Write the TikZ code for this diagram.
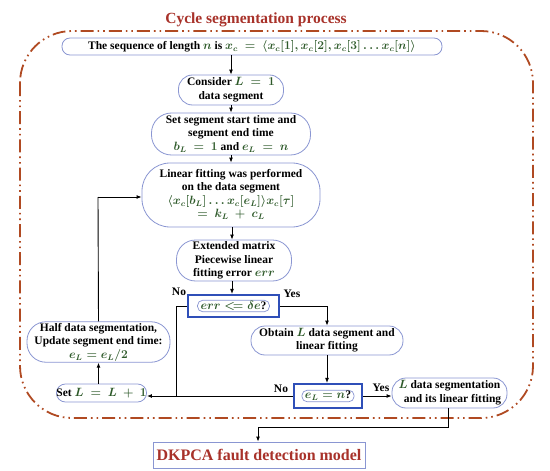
\documentclass[tikz,border=0pt]{standalone}
\usepackage{fontspec}
\setmainfont{Liberation Serif}
\usepackage{amsmath}
\usetikzlibrary{arrows.meta}
\definecolor{nodeblue}{HTML}{8A96D2}
\definecolor{boxblue}{HTML}{2F4FB8}
\definecolor{regionred}{HTML}{B04A22}
\definecolor{titlered}{HTML}{A8322A}
\definecolor{mathgreen}{HTML}{2E5A2A}
\newcommand{\gm}[1]{\textcolor{mathgreen}{\boldmath$#1$}}
\newcommand{\ml}[1]{\begin{tabular}{@{}c@{}}#1\end{tabular}}
\tikzset{
  box/.style={draw=nodeblue, line width=0.8pt, fill=white, inner sep=0pt,
    font=\bfseries\fontsize{11.5}{13.5}\selectfont},
  decision/.style={draw=boxblue, line width=2.2pt, fill=white, inner sep=0pt},
  inner/.style={draw=nodeblue, line width=0.7pt, rounded corners=5pt, inner xsep=3pt, inner ysep=1pt,
    font=\bfseries\fontsize{11.5}{13.5}\selectfont},
  conn/.style={draw=black, line width=0.9pt},
  arr/.style={conn, -{Latex[length=5pt,width=4pt]}},
  lbl/.style={font=\bfseries\fontsize{11.5}{13.5}\selectfont, inner sep=0pt},
}
\begin{document}
\begin{tikzpicture}[x=1pt,y=-1pt]
\useasboundingbox (0,0) rectangle (550,471);
% title
\node[font=\bfseries\fontsize{15.5}{18}\selectfont, text=titlered] (title) at (256,20) {Cycle segmentation process};
% region
\draw[regionred, line width=1.8pt, rounded corners=52pt,
  dash pattern=on 13pt off 4pt on 1.6pt off 4pt on 1.6pt off 4pt]
  (20,31) rectangle (533,418);
% nodes
\node[box, rounded corners=8pt, minimum width=380pt, minimum height=17pt] (top) at (252,46.5)
  {The sequence of length \gm{n} is \gm{x_c\:=\:\langle x_c[1],x_c[2],x_c[3]\ldots x_c[n]\rangle}};
\node[box, rounded corners=14pt, minimum width=105pt, minimum height=30pt] (consider) at (231,90)
  {\ml{Consider \gm{L\:=\:1}\\data segment}};
\node[box, rounded corners=20pt, minimum width=159pt, minimum height=42pt] (setseg) at (231,134)
  {\ml{Set segment start time and\\segment end time\\\gm{b_L\:=\:1} and \gm{e_L\:=\:n}}};
\node[box, rounded corners=28pt, minimum width=178pt, minimum height=64pt] (linfit) at (231,195)
  {\ml{Linear fitting was performed\\on the data segment\\\gm{\langle x_c[b_L]\ldots x_c[e_L]\rangle x_c[\tau]}\\\gm{=\:k_L\:+\:c_L}}};
\node[box, rounded corners=19pt, minimum width=115pt, minimum height=41pt] (ext) at (234,260.5)
  {\ml{Extended matrix\\Piecewise linear\\fitting error \gm{err}}};
\node[decision, minimum width=91pt, minimum height=22pt] (err) at (233.5,306) {};
\node[inner] (errt) at (err.center) {\gm{err\mathrel{<\!=}\delta e}?};
\node[box, rounded corners=14pt, minimum width=152pt, minimum height=29pt] (obtain) at (327,340.5)
  {\ml{Obtain \gm{L} data segment and\\linear fitting}};
\node[box, rounded corners=19pt, minimum width=143pt, minimum height=40pt] (half) at (98.5,342)
  {\ml{Half data segmentation,\\Update segment end time:\\\gm{e_L=e_L/2}}};
\node[box, rounded corners=9pt, minimum width=85pt, minimum height=18pt] (setL) at (101.5,393)
  {Set \gm{L\:=\:L\:+\:1}};
\node[decision, minimum width=68pt, minimum height=24pt] (eL) at (328,396) {};
\node[inner] (eLt) at (eL.center) {\gm{e_L=n}?};
\node[box, rounded corners=14pt, minimum width=115pt, minimum height=30pt] (ldata) at (449.5,393)
  {\ml{\gm{L} data segmentation\\\hspace*{6pt}and its linear fitting}};
\node[draw=nodeblue, line width=0.8pt, minimum width=212pt, minimum height=26pt, inner sep=0pt,
  font=\bfseries\fontsize{16}{19}\selectfont, text=titlered] (dkpca) at (259,455)
  {DKPCA fault detection model};
% labels
\node[lbl] (no1) at (179,292) {No};
\node[lbl] (yes1) at (292,294) {Yes};
\node[lbl] (no2) at (281,389) {No};
\node[lbl] (yes2) at (381,388) {Yes};
% helper coordinates
\coordinate (col) at (232,0);
\coordinate (loopx) at (176,306);
\coordinate (loopy) at (176,396);
\coordinate (obtx) at (327,306);
\coordinate (halfup) at (98,197);
\coordinate (ldown) at (448,427);
\coordinate (dkup) at (258,427);
% connectors
\draw[arr] (top.south -| consider.north) -- (consider.north);
\draw[arr] (consider.south) -- (setseg.north);
\draw[arr] (setseg.south) -- (linfit.north);
\draw[arr] (linfit.south -| col) -- (ext.north -| col);
\draw[arr] (ext.south -| col) -- (err.north -| col);
\draw[conn] (err.west) -- (loopx) -- (loopy);
\draw[conn] (err.east) -- (obtx);
\draw[arr] (obtx) -- (obtain.north -| obtx);
\draw[arr] (obtain.south -| obtx) -- (eL.north -| obtx);
\draw[arr] (eL.east) -- (ldata.west |- eL.east);
\draw[arr] (eL.west) -- (setL.east |- eL.west);
\draw[arr] (setL.north -| half.south) -- (half.south);
\draw[conn] (half.north) -- (halfup);
\draw[arr] (halfup) -- (linfit.west |- halfup);
\draw[conn] (ldata.south -| ldown) -- (ldown) -- (dkup);
\draw[arr] (dkup) -- (dkpca.north -| dkup);
\end{tikzpicture}
\end{document}
